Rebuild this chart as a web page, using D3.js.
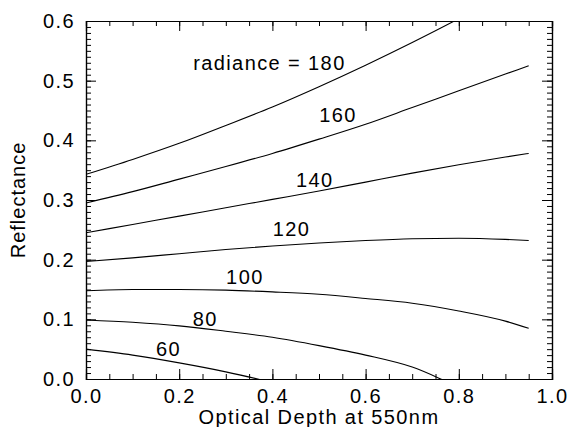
<!DOCTYPE html>
<html>
<head>
<meta charset="utf-8">
<script src="https://cdn.jsdelivr.net/npm/d3@7"></script>
<style>
  body { margin: 0; background: #fff; }
  svg { font-family: "Liberation Sans", Arial, sans-serif; }
</style>
</head>
<body>
<script>
// optical depth samples (x) shared by every curve
var depth = [0.0, 0.1, 0.2, 0.3, 0.4, 0.5, 0.6, 0.7, 0.8, 0.9, 0.95];

// reflectance for each radiance
var radiances = [180, 160, 140, 120, 100, 80, 60];
var refl180 = [0.343, 0.368, 0.395, 0.425, 0.456, 0.490, 0.526, 0.564, 0.604, 0.647, 0.670];
var refl160 = [0.295, 0.314, 0.335, 0.356, 0.378, 0.402, 0.427, 0.455, 0.483, 0.511, 0.525];
var refl140 = [0.245, 0.259, 0.273, 0.287, 0.301, 0.315, 0.330, 0.345, 0.359, 0.372, 0.378];
var refl120 = [0.197, 0.203, 0.210, 0.217, 0.223, 0.228, 0.232, 0.235, 0.236, 0.234, 0.232];
var refl100 = [0.148, 0.150, 0.150, 0.149, 0.146, 0.142, 0.135, 0.127, 0.114, 0.097, 0.085];
var refl80  = [0.099, 0.095, 0.089, 0.080, 0.070, 0.056, 0.040, 0.020, -0.013, -0.040, -0.055];
var refl60  = [0.050, 0.040, 0.027, 0.012, -0.006, -0.026, -0.048, -0.070, -0.090, -0.110, -0.120];
var reflectance = [refl180, refl160, refl140, refl120, refl100, refl80, refl60];

// where each curve label sits, in data units (depth, reflectance)
var labelText = ["radiance = 180", "160", "140", "120", "100", "80", "60"];
var labelDepth = [0.230, 0.541, 0.491, 0.441, 0.341, 0.256, 0.177];
var labelRefl  = [0.518, 0.431, 0.321, 0.240, 0.160, 0.089, 0.039];

var xTicks = [0.0, 0.2, 0.4, 0.6, 0.8, 1.0];
var yTicks = [0.0, 0.1, 0.2, 0.3, 0.4, 0.5, 0.6];

var margin = { top: 21, right: 19, bottom: 48, left: 86 };
var W = 571, H = 427;
var width = W - margin.left - margin.right;
var height = H - margin.top - margin.bottom;

// IDL's font is a wide helvetica, so add a bit of tracking
var fontSize = "20px", tracking = "1.4px";

var svg = d3.select("body").append("svg")
    .attr("width", W)
    .attr("height", H);

var g = svg.append("g")
    .attr("transform", "translate(" + margin.left + "," + margin.top + ")");

var x = d3.scaleLinear().domain([0, 1]).range([0, width]);
var y = d3.scaleLinear().domain([0, 0.6]).range([height, 0]);

// clip curves to the plot box like IDL does
g.append("clipPath").attr("id", "box")
    .append("rect").attr("width", width).attr("height", height);

// minor ticks: x every 0.05, y every 0.01
var xMinor = d3.range(0, 1.0001, 0.05);
var yMinor = d3.range(0, 0.6001, 0.01);

function axes() {
    // bottom
    g.append("g").attr("transform", "translate(0," + height + ")")
        .call(d3.axisBottom(x).tickValues(xTicks).tickSize(-10).tickPadding(10)
            .tickFormat(d3.format(".1f")));
    g.append("g").attr("transform", "translate(0," + height + ")")
        .call(d3.axisBottom(x).tickValues(xMinor).tickSize(-5).tickFormat(""));
    // top
    g.append("g")
        .call(d3.axisTop(x).tickValues(xTicks).tickSize(-10).tickFormat(""));
    g.append("g")
        .call(d3.axisTop(x).tickValues(xMinor).tickSize(-5).tickFormat(""));
    // left
    g.append("g")
        .call(d3.axisLeft(y).tickValues(yTicks).tickSize(-10).tickPadding(11)
            .tickFormat(d3.format(".1f")));
    g.append("g")
        .call(d3.axisLeft(y).tickValues(yMinor).tickSize(-5).tickFormat(""));
    // right
    g.append("g").attr("transform", "translate(" + width + ",0)")
        .call(d3.axisRight(y).tickValues(yTicks).tickSize(-10).tickFormat(""));
    g.append("g").attr("transform", "translate(" + width + ",0)")
        .call(d3.axisRight(y).tickValues(yMinor).tickSize(-5).tickFormat(""));

    g.selectAll(".domain").attr("stroke", "#000").attr("stroke-width", 1.2);
    g.selectAll(".tick line").attr("stroke", "#000");
    g.selectAll(".tick text")
        .attr("font-family", "Liberation Sans, Arial, sans-serif")
        .attr("font-size", fontSize)
        .attr("letter-spacing", tracking)
        .attr("fill", "#000");
}
axes();

var line = d3.line()
    .x(function (d) { return x(d[0]); })
    .y(function (d) { return y(d[1]); })
    .curve(d3.curveMonotoneX);

g.append("g").attr("clip-path", "url(#box)")
    .selectAll("path")
    .data(reflectance)
    .enter().append("path")
    .attr("fill", "none")
    .attr("stroke", "#000")
    .attr("stroke-width", 1.1)
    .attr("d", function (r) { return line(depth.map(function (d, i) { return [d, r[i]]; })); });

// curve labels
g.selectAll(".lab")
    .data(labelText)
    .enter().append("text")
    .attr("class", "lab")
    .attr("x", function (d, i) { return x(labelDepth[i]); })
    .attr("y", function (d, i) { return y(labelRefl[i]); })
    .attr("text-anchor", function (d, i) { return i === 0 ? "start" : "middle"; })
    .attr("font-size", fontSize)
    .attr("letter-spacing", tracking)
    .text(function (d) { return d; });

// axis titles
svg.append("text")
    .attr("x", margin.left + width / 2)
    .attr("y", 424)
    .attr("text-anchor", "middle")
    .attr("font-size", fontSize)
    .attr("letter-spacing", tracking)
    .text("Optical Depth at 550nm");

svg.append("text")
    .attr("transform", "translate(25," + (margin.top + height / 2) + ") rotate(-90)")
    .attr("text-anchor", "middle")
    .attr("font-size", fontSize)
    .attr("letter-spacing", "1px")
    .text("Reflectance");
</script>
</body>
</html>
